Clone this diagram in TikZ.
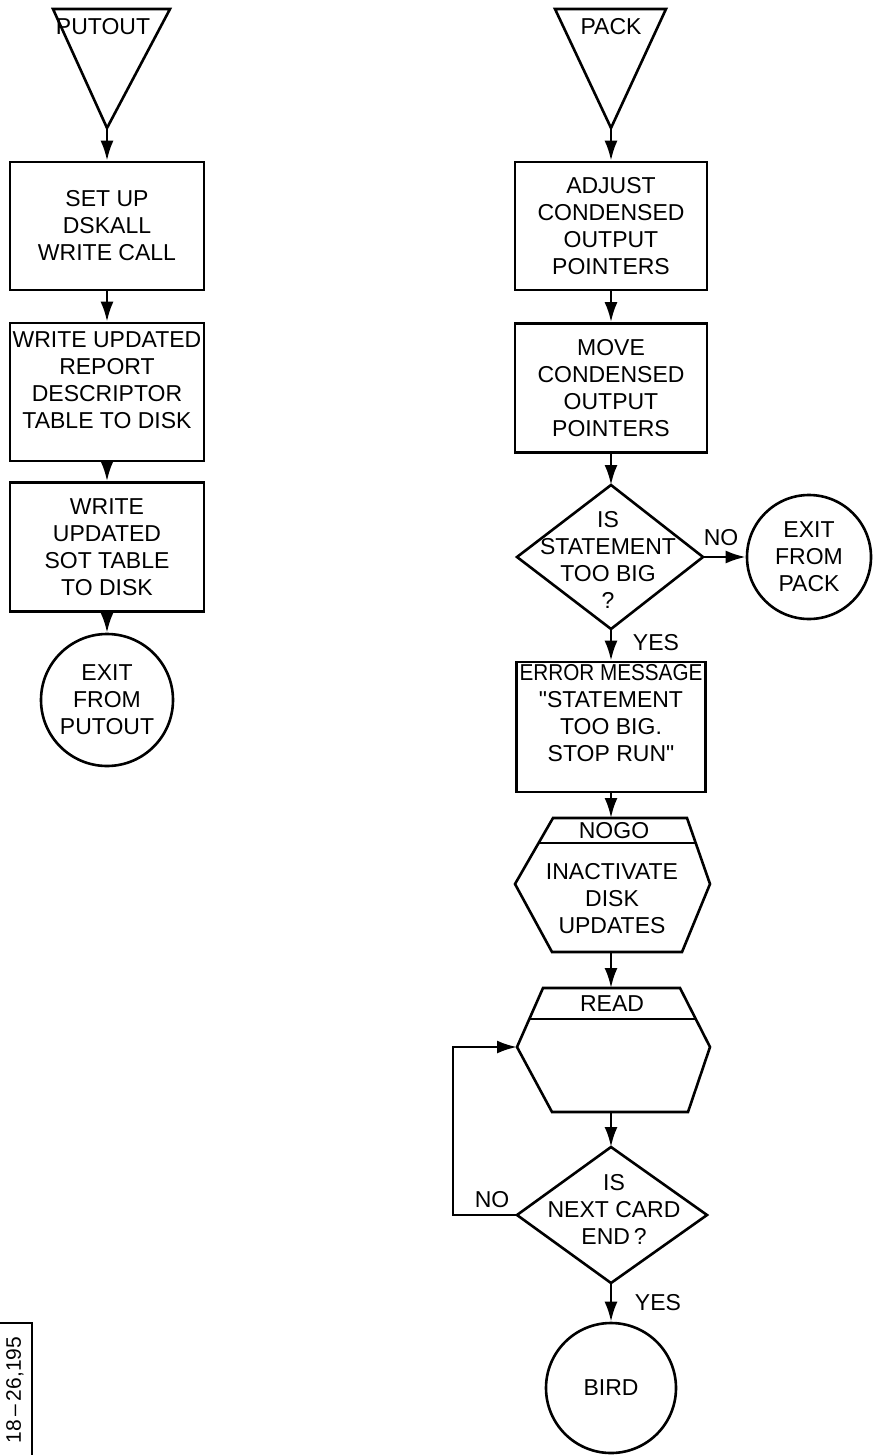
\documentclass[tikz,border=0pt]{standalone}
\usepackage{fontspec}
\setmainfont{Liberation Sans}
\newfontfamily\qfont{Liberation Sans}[Ligatures=TeXOff]
\usepackage{graphicx}
\usetikzlibrary{arrows.meta,calc}
\newcommand\flowfont{\fontsize{23}{27}\selectfont}
\newcommand\sq{{\qfont\symbol{34}}}
\begin{document}
\begin{tikzpicture}[x=1pt,y=-1pt,line width=2.6pt,line join=miter,
  box/.style={draw,rectangle,inner sep=0pt,align=center,font=\flowfont},
  term/.style={draw,circle,inner sep=0pt,align=center,font=\flowfont},
  txt/.style={align=center,font=\flowfont,inner sep=0pt},
  flow/.style={-{Latex[length=20pt,width=13pt]}}]
\useasboundingbox (0,0) rectangle (873,1455);
\fill[white] (0,0) rectangle (873,1455);

% ---------------- left column ----------------
\coordinate (t1a) at (53,9);
\coordinate (t1b) at (170,9);
\coordinate (t1c) at (107,128);
\draw (t1a) -- (t1b) -- (t1c) -- cycle;
\node[txt] (t1t) at (103,27) {PUTOUT};

\node[box,minimum width=194pt,minimum height=128pt] (b1) at (107,226)
  {SET UP\\DSKALL\\WRITE CALL};
\node[box,minimum width=194pt,minimum height=138pt,
  label={[txt,yshift=12pt]center:{WRITE UPDATED\\REPORT\\DESCRIPTOR\\TABLE TO DISK}}] (b2) at (107,392) {};
\node[box,minimum width=194pt,minimum height=129pt] (b3) at (107,547)
  {WRITE\\UPDATED\\SOT TABLE\\TO DISK};
\node[term,minimum size=132pt] (c1) at (107,700) {EXIT\\FROM\\PUTOUT};

\draw[flow] (t1c) -- (b1.north);
\draw[flow] (b1.south) -- (b2.north);
\draw[flow] (b2.south) -- (b3.north);
\draw[flow] (b3.south) -- (c1.north);

% ---------------- right column ----------------
\coordinate (t2a) at (555,9);
\coordinate (t2b) at (666,9);
\coordinate (t2c) at (611,128);
\draw (t2a) -- (t2b) -- (t2c) -- cycle;
\node[txt] (t2t) at (611,27) {PACK};

\node[box,minimum width=192pt,minimum height=128pt] (b4) at (611,226)
  {ADJUST\\CONDENSED\\OUTPUT\\POINTERS};
\node[box,minimum width=192pt,minimum height=129pt] (b5) at (611,388)
  {MOVE\\CONDENSED\\OUTPUT\\POINTERS};

% decision 1
\coordinate (d1t) at (611,485);
\coordinate (d1r) at (703,557);
\coordinate (d1b) at (611,629);
\coordinate (d1l) at (517,557);
\draw (d1t) -- (d1r) -- (d1b) -- (d1l) -- cycle;
\node[txt] (d1x) at (608,560) {IS\\STATEMENT\\TOO BIG\\?};

\node[term,minimum size=124pt] (c2) at (809,557) {EXIT\\FROM\\PACK};

\node[box,minimum width=189pt,minimum height=130pt,
  label={[txt,yshift=14pt]center:{\scalebox{0.9}[1]{ERROR MESSAGE}\\\sq STATEMENT\\TOO BIG.\\STOP RUN\sq}}] (b6) at (611,727) {};

% NOGO hexagon
\coordinate (n1) at (553,818);
\coordinate (n2) at (687,818);
\coordinate (n3) at (710,884);
\coordinate (n4) at (682,952);
\coordinate (n5) at (552,952);
\coordinate (n6) at (515,884);
\draw (n1) -- (n2) -- (n3) -- (n4) -- (n5) -- (n6) -- cycle;
\draw ($(n1)!0.379!(n6)$) -- ($(n2)!0.379!(n3)$);
\coordinate (ntop) at (611,818);
\coordinate (nbot) at (611,952);
\node[txt] (nogo) at (614,831) {NOGO};
\node[txt] (nogox) at (612,899) {INACTIVATE\\DISK\\UPDATES};

% READ hexagon
\coordinate (r1) at (543,988);
\coordinate (r2) at (680,988);
\coordinate (r3) at (710,1047);
\coordinate (r4) at (688,1112);
\coordinate (r5) at (552,1112);
\coordinate (r6) at (517,1047);
\draw (r1) -- (r2) -- (r3) -- (r4) -- (r5) -- (r6) -- cycle;
\draw ($(r1)!0.525!(r6)$) -- ($(r2)!0.525!(r3)$);
\coordinate (rtop) at (611,988);
\coordinate (rbot) at (611,1112);
\node[txt] (read) at (612,1004) {READ};

% decision 2
\coordinate (d2t) at (611,1147);
\coordinate (d2r) at (707,1215);
\coordinate (d2b) at (611,1283);
\coordinate (d2l) at (517,1215);
\draw (d2t) -- (d2r) -- (d2b) -- (d2l) -- cycle;
\node[txt] (d2x) at (614,1209) {IS\\NEXT CARD\\END\,?};

\node[term,minimum size=130pt] (c3) at (611,1388) {BIRD};

% connectors
\draw[flow] (t2c) -- (b4.north);
\draw[flow] (b4.south) -- (b5.north);
\draw[flow] (b5.south) -- (d1t);
\draw[flow] (d1r) -- (c2.west);
\draw[flow] (d1b) -- (b6.north);
\draw[flow] (b6.south) -- (ntop);
\draw[flow] (nbot) -- (rtop);
\draw[flow] (rbot) -- (d2t);
\draw[flow] (d2b) -- (c3.north);
\coordinate (lpa) at (453,1215);
\coordinate (lpb) at (453,1047);
\draw[flow] (d2l) -- (lpa) -- (lpb) -- (r6);

% branch labels
\node[txt] (no1) at (721,538) {NO};
\node[txt] (yes1) at (656,643) {YES};
\node[txt] (no2) at (492,1200) {NO};
\node[txt] (yes2) at (658,1303) {YES};

% side tag
\draw[line width=1.8pt] (-5,1323) rectangle (32,1462);
\node[rotate=90,font=\fontsize{21}{21}\selectfont,inner sep=0pt] (tag) at (15,1390) {18\,--\,26,195};
\end{tikzpicture}
\end{document}
